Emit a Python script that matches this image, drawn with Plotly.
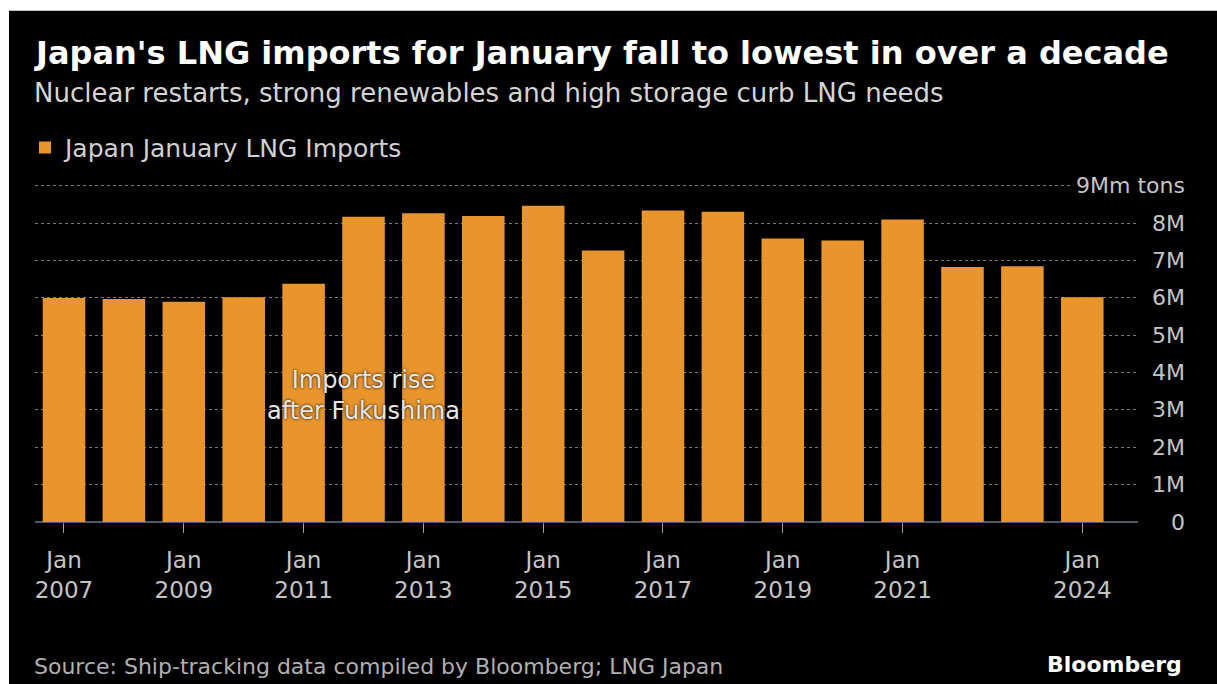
import plotly.graph_objects as go

# ---- data ----
years = list(range(2007, 2025))
imports_m_tons = [6.00, 5.97, 5.90, 6.02, 6.38, 8.17, 8.27, 8.19, 8.47, 7.27,
                  8.34, 8.31, 7.59, 7.54, 8.10, 6.83, 6.85, 6.02]
tick_years = [2007, 2009, 2011, 2013, 2015, 2017, 2019, 2021, 2024]
tick_text = ["Jan<br>" + str(y) for y in tick_years]
y_ticks = list(range(0, 10))
y_tick_text = ["0", "1M", "2M", "3M", "4M", "5M", "6M", "7M", "8M", "9Mm tons"]

W, H = 1217, 684
Y_MAX = 9.05
PX_PER_M = (522 - 186) / 9.0
PL, PR, PB = 35, 1138, 522
PT = PB - Y_MAX * PX_PER_M  # plot top in pixels


def px2x(p):
    return (p - PL) / (PR - PL)


def px2y(p):
    return (PB - p) / (PB - PT)


ORANGE = "#E8952E"
FONT = "DejaVu Sans"

fig = go.Figure()
fig.add_trace(go.Bar(
    x=years, y=imports_m_tons, name="Japan January LNG Imports",
    marker=dict(color=ORANGE, line=dict(width=0)),
    width=0.71, showlegend=True,
))

annotations = []
# y tick labels (right aligned)
for v, t in zip(y_ticks, y_tick_text):
    annotations.append(dict(
        x=px2x(1188), xref="paper", y=v, yref="y", text=t, showarrow=False,
        xanchor="right", yanchor="middle",
        font=dict(family=FONT, size=22, color="#c4c4c4"),
        bgcolor="black" if v == 9 else None, borderpad=2,
    ))

# Title / subtitle / source
annotations += [
    dict(x=px2x(32), y=px2y(53), xref="paper", yref="paper", xanchor="left", yanchor="middle",
         text="<b>Japan's LNG imports for January fall to lowest in over a decade</b>",
         showarrow=False, font=dict(family=FONT, size=32, color="#ffffff")),
    dict(x=px2x(32), y=px2y(93), xref="paper", yref="paper", xanchor="left", yanchor="middle",
         text="Nuclear restarts, strong renewables and high storage curb LNG needs",
         showarrow=False, font=dict(family=FONT, size=26, color="#d4d4d4")),
    dict(x=px2x(32), y=px2y(666), xref="paper", yref="paper", xanchor="left", yanchor="middle",
         text="Source: Ship-tracking data compiled by Bloomberg; LNG Japan",
         showarrow=False, font=dict(family=FONT, size=22, color="#b0b0b0")),
    dict(x=px2x(1184), y=px2y(664), xref="paper", yref="paper", xanchor="right", yanchor="middle",
         text="<b>Bloomberg</b>",
         showarrow=False, font=dict(family=FONT, size=22, color="#ffffff")),
    dict(x=2012, y=3.38, xref="x", yref="y", xanchor="center", yanchor="middle",
         text="Imports rise<br>after Fukushima", showarrow=False,
         font=dict(family=FONT, size=24, color="#e6e6e6", shadow="0px 0px 3px #000000")),
]

shapes = [
    # white border strips of the original screenshot
    dict(type="rect", xref="paper", yref="paper", x0=px2x(0), x1=px2x(W), y0=px2y(0), y1=px2y(11),
         fillcolor="white", line=dict(width=0), layer="above"),
    dict(type="rect", xref="paper", yref="paper", x0=px2x(0), x1=px2x(9), y0=px2y(0), y1=px2y(H),
         fillcolor="white", line=dict(width=0), layer="above"),
]

fig.update_layout(
    width=W, height=H,
    margin=dict(l=PL, r=W - PR, t=PT, b=H - PB, pad=0),
    paper_bgcolor="black", plot_bgcolor="black",
    font=dict(family=FONT, color="#c4c4c4"),
    showlegend=True,
    legend=dict(orientation="h", x=px2x(25), y=px2y(148), xanchor="left", yanchor="middle",
                font=dict(family=FONT, size=25, color="#d0d0d0"), bgcolor="rgba(0,0,0,0)"),
    annotations=annotations,
    shapes=shapes,
    bargap=0.29,
)
fig.update_xaxes(
    range=[2006.516, 2024.93], tickmode="array", tickvals=tick_years, ticktext=tick_text,
    ticks="outside", ticklen=10, tickcolor="#9a9a9a", tickwidth=1,
    ticklabelstandoff=7,
    showgrid=False, zeroline=False, showline=False,
    tickfont=dict(family=FONT, size=23, color="#c4c4c4"),
)
fig.update_yaxes(
    range=[0, Y_MAX], tickvals=y_ticks, showticklabels=False,
    showgrid=True, gridcolor="#7a7a7a", griddash="dot", gridwidth=1,
    zeroline=True, zerolinecolor="#4a5a66", zerolinewidth=2,
)

fig.write_html("out.html")
